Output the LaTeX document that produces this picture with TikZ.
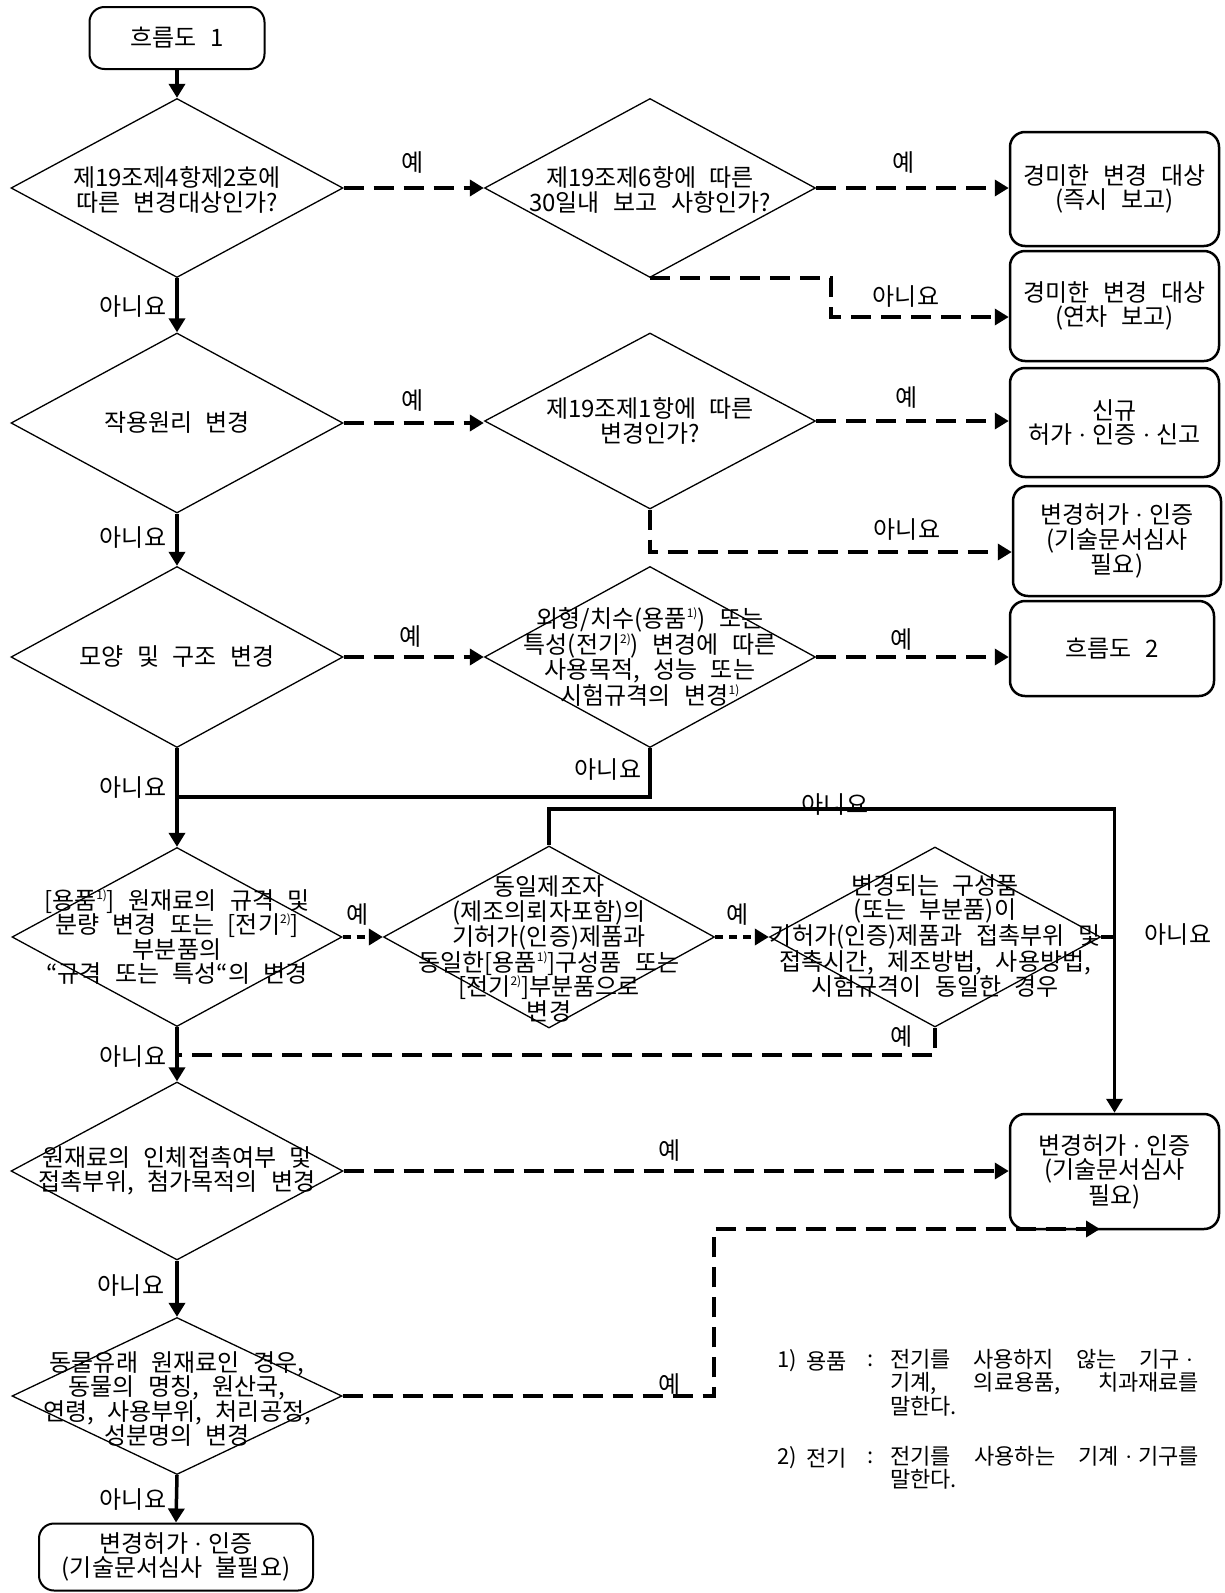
\documentclass[tikz,border=0pt]{standalone}
\usepackage{fontspec}
\setmainfont{Noto Sans CJK KR}[WordSpace=2.5]
\newfontfamily\latinfont{Liberation Serif}
\usetikzlibrary{shapes.geometric,arrows.meta}
\newcommand{\fnm}[1]{\raisebox{0.42em}{\fontsize{12}{12}\selectfont #1}}
\newcommand{\md}{\hspace{6pt}{\latinfont ·}\hspace{6pt}}
\begin{document}
\begin{tikzpicture}[x=1pt,y=-1pt,
  font=\fontsize{24}{24.5}\selectfont,
  dia/.style={draw, shape=diamond, inner sep=0pt, line width=1.3pt, minimum width=332pt, minimum height=179pt},
  txt/.style={align=center, inner sep=0pt},
  box/.style={draw, rounded corners=15pt, line width=2.5pt, align=center, inner sep=0pt},
  sarr/.style={line width=3.5pt, -{Triangle[length=14pt,width=16pt]}},
  sline/.style={line width=3.5pt},
  darr/.style={line width=3.5pt, dash pattern=on 20pt off 10pt, -{Triangle[length=14pt,width=16pt]}},
  dline/.style={line width=3.5pt, dash pattern=on 20pt off 10pt},
  oarr/.style={line width=3.5pt, dash pattern=on 8pt off 6pt, -{Triangle[length=14pt,width=16pt]}},
  lbl/.style={inner sep=0pt},
  fnt/.style={inner sep=0pt, font=\fontsize{22}{23.5}\selectfont}
]
\useasboundingbox (0,0) rectangle (1224,1593);
\fill[white] (0,0) rectangle (1224,1593);

% left column
\node[box, line width=2pt, minimum width=175pt, minimum height=62pt] (start) at (177,38) {흐름도 1};
\node[dia] (d1) at (177,188) {};
\node[txt] (t1) at (177,190) {제19조제4항제2호에\\따른 변경대상인가?};
\node[dia, minimum height=180pt] (d2) at (177,423) {};
\node[txt] (t2) at (d2) {작용원리 변경};
\node[dia, minimum height=181pt] (d3) at (177,657) {};
\node[txt] (t3) at (d3) {모양 및 구조 변경};
\node[dia, minimum width=330pt] (d4) at (177,937) {};
\node[txt] (t4) at (177,937) {{[}용품\fnm{1)}{]} 원재료의 규격 및\\분량 변경 또는 {[}전기\fnm{2)}{]}\\부분품의\\“규격 또는 특성“의 변경};
\node[dia, minimum height=178pt] (d5) at (177,1171) {};
\node[txt] (t5) at (177,1171) {원재료의 인체접촉여부 및\\접촉부위, 첨가목적의 변경};
\node[dia, minimum width=330pt, minimum height=157pt] (d6) at (177,1396) {};
\node[txt] (t6) at (177,1399) {동물유래 원재료인 경우,\\동물의 명칭, 원산국,\\연령, 사용부위, 처리공정,\\성분명의 변경};
\node[box, line width=2pt, minimum width=274pt, minimum height=67pt] (bot) at (176,1557) {변경허가\md 인증\\(기술문서심사 불필요)};

% middle column
\node[dia, minimum width=331pt] (d1b) at (650,188) {};
\node[txt] (t1b) at (650,190) {제19조제6항에 따른\\30일내 보고 사항인가?};
\node[dia, minimum width=331pt, minimum height=176pt] (d2b) at (650,421) {};
\node[txt] (t2b) at (650,421) {제19조제1항에 따른\\변경인가?};
\node[dia, minimum width=331pt, minimum height=181pt] (d3b) at (650,657) {};
\node[txt] (t3b) at (650,657) {외형/치수(용품\fnm{1)}) 또는\\특성(전기\fnm{2)}) 변경에 따른\\사용목적, 성능 또는\\시험규격의 변경\fnm{1)}};
\node[dia, minimum width=331pt, minimum height=182pt] (d4b) at (549,937) {};
\node[txt] (t4b) at (549,949) {동일제조자\\(제조의뢰자포함)의\\기허가(인증)제품과\\동일한{[}용품\fnm{1)}{]}구성품 또는\\{[}전기\fnm{2)}{]}부분품으로\\변경};
\node[dia, minimum width=331pt, minimum height=180pt] (d4c) at (935,937) {};
\node[txt] (t4c) at (935,936) {변경되는 구성품\\(또는 부분품)이\\기허가(인증)제품과 접촉부위 및\\접촉시간, 제조방법, 사용방법,\\시험규격이 동일한 경우};

% right column
\node[box, minimum width=209pt, minimum height=114pt] (r1) at (1114.5,189) {경미한 변경 대상\\(즉시 보고)};
\node[box, minimum width=209pt, minimum height=110pt] (r2) at (1114.5,306) {경미한 변경 대상\\(연차 보고)};
\node[box, minimum width=209pt, minimum height=109pt] (r3) at (1114.5,422.5) {신규\\허가\md 인증\md 신고};
\node[box, minimum width=208pt, minimum height=110pt] (r4) at (1117,541) {변경허가\md 인증\\(기술문서심사\\필요)};
\node[box, minimum width=204pt, minimum height=95pt] (r5) at (1112,648.5) {흐름도 2};
\node[box, minimum width=209pt, minimum height=115pt] (r6) at (1114.5,1171.5) {변경허가\md 인증\\(기술문서심사\\필요)};

% main vertical connectors
\draw[sarr] (start.south) -- (d1.north);
\draw[sarr] (d1.south) -- (d2.north);
\draw[sarr] (d2.south) -- (d3.north);
\draw[sarr] (d3.south) -- (d4.north);
\draw[sarr] (d4.south) -- (d5.north);
\draw[sarr] (d5.south) -- (d6.north);
\draw[sarr] (d6.south) -- (bot.north);

% row 1
\draw[darr] (d1.east) -- (d1b.west);
\draw[darr] (d1b.east) -- (d1b.east -| r1.west);
\coordinate (c1) at (831,317);
\draw[darr] (d1b.south) -- (d1b.south -| c1) -- (c1) -- (c1 -| r2.west);
% row 2
\draw[darr] (d2.east) -- (d2.east -| d2b.west);
\draw[darr] (d2b.east) -- (d2b.east -| r3.west);
\coordinate (c2) at (650,552);
\draw[darr] (d2b.south) -- (c2) -- (c2 -| r4.west);
% row 3
\draw[darr] (d3.east) -- (d3b.west);
\draw[darr] (d3b.east) -- (d3b.east -| r5.west);
\coordinate (c3) at (650,797);
\draw[sline] (d3b.south) -- (c3) -- (c3 -| d3.south);
% row 4
\draw[oarr] (d4.east) -- (d4b.west);
\draw[oarr] (d4b.east) -- (d4c.west);
\coordinate (c4) at (549,809);
\coordinate (c5) at (1114.5,809);
\draw[sarr] (d4b.north) -- (c4) -- (c5) -- (r6.north);
\draw[sline] (d4c.east) -- (d4c.east -| c5);
\coordinate (c6) at (935,1055);
\draw[dline] (d4c.south) -- (c6) -- (c6 -| d4.south);
% row 5
\draw[darr] (d5.east) -- (d5.east -| r6.west);
% row 6
\coordinate (c7) at (714,1396);
\coordinate (c8) at (714,1229);
\coordinate (c9) at (1100,1229);
\draw[darr] (d6.east) -- (c7) -- (c8) -- (c9);

% labels
\node[lbl] (y1) at (413,163) {예};
\node[lbl] (y2) at (904,163) {예};
\node[lbl] (y3) at (413,401) {예};
\node[lbl] (y4) at (907,398) {예};
\node[lbl] (y5) at (411,637) {예};
\node[lbl] (y6) at (902,640) {예};
\node[lbl] (y7) at (358,914) {예};
\node[lbl] (y8) at (738,914) {예};
\node[lbl] (y9) at (902,1036) {예};
\node[lbl] (y10) at (670,1150) {예};
\node[lbl] (y11) at (670,1384) {예};
\node[lbl] (n1) at (906,297) {아니요};
\node[lbl] (n2) at (907,530) {아니요};
\node[lbl] (n3) at (608,770) {아니요};
\node[lbl] (n4) at (835,805) {아니요};
\node[lbl] (n5) at (1178,935) {아니요};
\node[lbl] (n6) at (133,307) {아니요};
\node[lbl] (n7) at (133,538) {아니요};
\node[lbl] (n8) at (133,788) {아니요};
\node[lbl] (n9) at (133,1056) {아니요};
\node[lbl] (n10) at (131,1285) {아니요};
\node[lbl] (n11) at (133,1499) {아니요};

% footnotes
\node[fnt, anchor=west] (fa1) at (777,1361) {1)};
\node[fnt, anchor=west] (fb1) at (806,1361) {용품};
\node[fnt, anchor=west] (fc1) at (867,1361) {:};
\node[fnt, anchor=north west, align=left] (fd1) at (890,1349) {\makebox[309pt][s]{전기를 사용하지 않는 기구\md}\\\makebox[309pt][s]{기계, 의료용품, 치과재료를}\\말한다.};
\node[fnt, anchor=west] (fa2) at (777,1458) {2)};
\node[fnt, anchor=west] (fb2) at (806,1458) {전기};
\node[fnt, anchor=west] (fc2) at (867,1458) {:};
\node[fnt, anchor=north west, align=left] (fd2) at (890,1446) {\makebox[309pt][s]{전기를 사용하는 기계\md 기구를}\\말한다.};
\end{tikzpicture}
\end{document}
